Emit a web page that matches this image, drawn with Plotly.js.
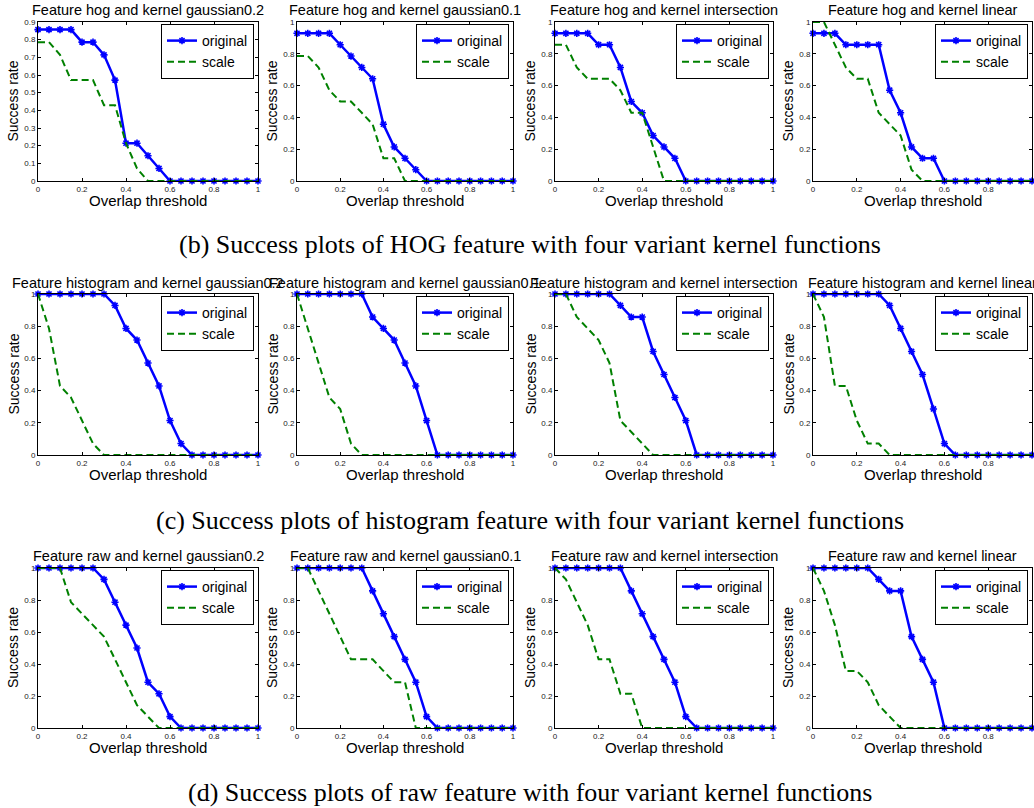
<!DOCTYPE html>
<html>
<head>
<meta charset="utf-8">
<script src="https://cdn.plot.ly/plotly-3.0.1.min.js"></script>
<style>html,body{margin:0;padding:0;background:#fff;}#chart{width:1034px;height:808px;}</style>
</head>
<body>
<div id="chart"></div>
<script>
// ---- data ----
const thresholds = [0,0.05,0.1,0.15,0.2,0.25,0.3,0.35,0.4,0.45,0.5,0.55,0.6,0.65,0.7,0.75,0.8,0.85,0.9,0.95,1];

const plotTitles = [
  "Feature hog and kernel gaussian0.2","Feature hog and kernel gaussian0.1","Feature hog and kernel intersection","Feature hog and kernel linear",
  "Feature histogram and kernel gaussian0.2","Feature histogram and kernel gaussian0.1","Feature histogram and kernel intersection","Feature histogram and kernel linear",
  "Feature raw and kernel gaussian0.2","Feature raw and kernel gaussian0.1","Feature raw and kernel intersection","Feature raw and kernel linear"
];
const seriesNames = ["original","scale"];
const captions = [
  "(b) Success plots of HOG feature with four variant kernel functions",
  "(c) Success plots of histogram feature with four variant kernel functions",
  "(d) Success plots of raw feature with four variant kernel functions"
];
const xAxisLabel = "Overlap threshold";
const yAxisLabel = "Success rate";

const hogGauss02Original  = [0.857,0.857,0.857,0.857,0.786,0.786,0.714,0.571,0.214,0.214,0.143,0.071,0,0,0,0,0,0,0,0,0];
const hogGauss02Scale     = [0.786,0.786,0.714,0.571,0.571,0.571,0.429,0.429,0.214,0.071,0,0,0,0,0,0,0,0,0,0,0];
const hogGauss01Original  = [0.929,0.929,0.929,0.929,0.857,0.786,0.714,0.643,0.357,0.214,0.143,0.071,0,0,0,0,0,0,0,0,0];
const hogGauss01Scale     = [0.786,0.786,0.714,0.571,0.5,0.5,0.429,0.357,0.143,0.143,0,0,0,0,0,0,0,0,0,0,0];
const hogInterOriginal    = [0.929,0.929,0.929,0.929,0.857,0.857,0.714,0.5,0.429,0.286,0.214,0.143,0,0,0,0,0,0,0,0,0];
const hogInterScale       = [0.857,0.857,0.714,0.643,0.643,0.643,0.571,0.429,0.429,0.214,0,0,0,0,0,0,0,0,0,0,0];
const hogLinearOriginal   = [0.929,0.929,0.929,0.857,0.857,0.857,0.857,0.571,0.429,0.214,0.143,0.143,0,0,0,0,0,0,0,0,0];
const hogLinearScale      = [1,1,0.857,0.714,0.643,0.643,0.429,0.357,0.286,0.071,0,0,0,0,0,0,0,0,0,0,0];

const histGauss02Original = [1,1,1,1,1,1,1,0.929,0.786,0.714,0.571,0.429,0.214,0.071,0,0,0,0,0,0,0];
const histGauss02Scale    = [1,0.786,0.429,0.357,0.214,0.071,0,0,0,0,0,0,0,0,0,0,0,0,0,0,0];
const histGauss01Original = [1,1,1,1,1,1,1,0.857,0.786,0.714,0.571,0.429,0.214,0,0,0,0,0,0,0,0];
const histGauss01Scale    = [1,0.786,0.571,0.357,0.286,0.071,0,0,0,0,0,0,0,0,0,0,0,0,0,0,0];
const histInterOriginal   = [1,1,1,1,1,1,0.929,0.857,0.857,0.643,0.5,0.357,0.214,0,0,0,0,0,0,0,0];
const histInterScale      = [1,1,0.857,0.786,0.714,0.571,0.214,0.143,0.071,0,0,0,0,0,0,0,0,0,0,0,0];
const histLinearOriginal  = [1,1,1,1,1,1,1,0.929,0.786,0.643,0.5,0.286,0.071,0,0,0,0,0,0,0,0];
const histLinearScale     = [1,0.857,0.429,0.429,0.214,0.071,0.071,0,0,0,0,0,0,0,0,0,0,0,0,0,0];

const rawGauss02Original  = [1,1,1,1,1,1,0.929,0.786,0.643,0.5,0.286,0.214,0.071,0,0,0,0,0,0,0,0];
const rawGauss02Scale     = [1,1,1,0.786,0.714,0.643,0.571,0.429,0.286,0.143,0.071,0,0,0,0,0,0,0,0,0,0];
const rawGauss01Original  = [1,1,1,1,1,1,1,0.857,0.714,0.571,0.429,0.286,0.071,0,0,0,0,0,0,0,0];
const rawGauss01Scale     = [1,1,0.857,0.714,0.571,0.429,0.429,0.429,0.357,0.286,0.286,0,0,0,0,0,0,0,0,0,0];
const rawInterOriginal    = [1,1,1,1,1,1,1,0.857,0.714,0.571,0.429,0.286,0.071,0,0,0,0,0,0,0,0];
const rawInterScale       = [1,0.929,0.786,0.643,0.429,0.429,0.214,0.214,0,0,0,0,0,0,0,0,0,0,0,0,0];
const rawLinearOriginal   = [1,1,1,1,1,1,0.929,0.857,0.857,0.571,0.429,0.286,0,0,0,0,0,0,0,0,0];
const rawLinearScale      = [1,0.857,0.643,0.357,0.357,0.286,0.143,0.071,0,0,0,0,0,0,0,0,0,0,0,0,0];

const originalSeries = [hogGauss02Original,hogGauss01Original,hogInterOriginal,hogLinearOriginal,
  histGauss02Original,histGauss01Original,histInterOriginal,histLinearOriginal,
  rawGauss02Original,rawGauss01Original,rawInterOriginal,rawLinearOriginal];
const scaleSeries = [hogGauss02Scale,hogGauss01Scale,hogInterScale,hogLinearScale,
  histGauss02Scale,histGauss01Scale,histInterScale,histLinearScale,
  rawGauss02Scale,rawGauss01Scale,rawInterScale,rawLinearScale];

// ---- layout geometry (pixels) ----
const W = 1034, H = 808;
const cols = [[38,258],[297,513],[555,773],[813,1032]];
const rows = [[22,181],[294,455],[568,728]];
const titleY = [10,283,556];
const captionY = [245,520,792];
const captionX = 530;

const px = v => v / W;
const py = v => 1 - v / H;

const traces = [];
const layout = {
  width: W, height: H,
  margin: {l:0,r:0,t:0,b:0},
  paper_bgcolor: '#fff', plot_bgcolor: '#fff',
  showlegend: true,
  annotations: []
};
const sans = 'Liberation Sans, Arial, sans-serif';
const tickFont = {family: sans, size: 8, color: '#222'};

for (let i = 0; i < 12; i++) {
  const r = Math.floor(i / 4), c = i % 4;
  const n = i + 1;
  const xa = 'x' + (n === 1 ? '' : n), ya = 'y' + (n === 1 ? '' : n);
  const xk = 'xaxis' + (n === 1 ? '' : n), yk = 'yaxis' + (n === 1 ? '' : n);
  const lg = 'legend' + (n === 1 ? '' : n);
  const [l, rr] = cols[c];
  const [t, b] = rows[r];
  const yMax = (i === 0) ? 0.9 : 1;

  traces.push({
    x: thresholds, y: originalSeries[i], xaxis: xa, yaxis: ya, legend: lg,
    name: seriesNames[0], type: 'scatter', mode: 'lines+markers', cliponaxis: false,
    line: {color: '#0000ff', width: 2.5},
    marker: {symbol: 'asterisk-open', size: 6, color: '#0000ff', line: {color: '#0000ff', width: 1.6}}
  });
  traces.push({
    x: thresholds, y: scaleSeries[i], xaxis: xa, yaxis: ya, legend: lg,
    name: seriesNames[1], type: 'scatter', mode: 'lines', cliponaxis: false,
    line: {color: '#008000', width: 2, dash: '7px,4px'}
  });

  layout[xk] = {
    domain: [px(l), px(rr)], anchor: ya, range: [0, 1],
    tickmode: 'linear', tick0: 0, dtick: 0.2,
    ticks: 'inside', ticklen: 3, tickcolor: '#000', tickwidth: 1,
    showline: true, linecolor: '#000', linewidth: 1, mirror: 'ticks',
    showgrid: false, zeroline: false, tickfont: tickFont, fixedrange: true
  };
  layout[yk] = {
    domain: [py(b), py(t)], anchor: xa, range: [0, yMax],
    tickmode: 'linear', tick0: 0, dtick: (i === 0) ? 0.1 : 0.2,
    ticks: 'inside', ticklen: 3, tickcolor: '#000', tickwidth: 1,
    showline: true, linecolor: '#000', linewidth: 1, mirror: 'ticks',
    showgrid: false, zeroline: false, tickfont: tickFont, fixedrange: true
  };
  layout[lg] = {
    x: px(rr - 4), xanchor: 'right', y: py(t + 2), yanchor: 'top',
    bgcolor: '#fff', bordercolor: '#000', borderwidth: 1,
    font: {family: sans, size: 14, color: '#000'},
    tracegroupgap: 0, itemwidth: 30
  };

  layout.annotations.push({
    text: plotTitles[i], xref: 'paper', yref: 'paper',
    x: px((l + rr) / 2), y: py(titleY[r]), xanchor: 'center', yanchor: 'middle',
    showarrow: false, font: {family: sans, size: 14.5, color: '#000'}
  });
  layout.annotations.push({
    text: xAxisLabel, xref: 'paper', yref: 'paper',
    x: px((l + rr) / 2), y: py(b + 19), xanchor: 'center', yanchor: 'middle',
    showarrow: false, font: {family: sans, size: 15, color: '#000'}
  });
  layout.annotations.push({
    text: yAxisLabel, xref: 'paper', yref: 'paper', textangle: -90,
    x: px(l - 25), y: py((t + b) / 2), xanchor: 'center', yanchor: 'middle',
    showarrow: false, font: {family: sans, size: 14, color: '#000'}
  });
}
captions.forEach((cap, k) => {
  layout.annotations.push({
    text: cap, xref: 'paper', yref: 'paper',
    x: px(captionX), y: py(captionY[k]), xanchor: 'center', yanchor: 'middle',
    showarrow: false, font: {family: 'Liberation Serif, Times New Roman, serif', size: 26, color: '#000'}
  });
});

Plotly.newPlot('chart', traces, layout, {displayModeBar: false, staticPlot: true});
</script>
</body>
</html>
